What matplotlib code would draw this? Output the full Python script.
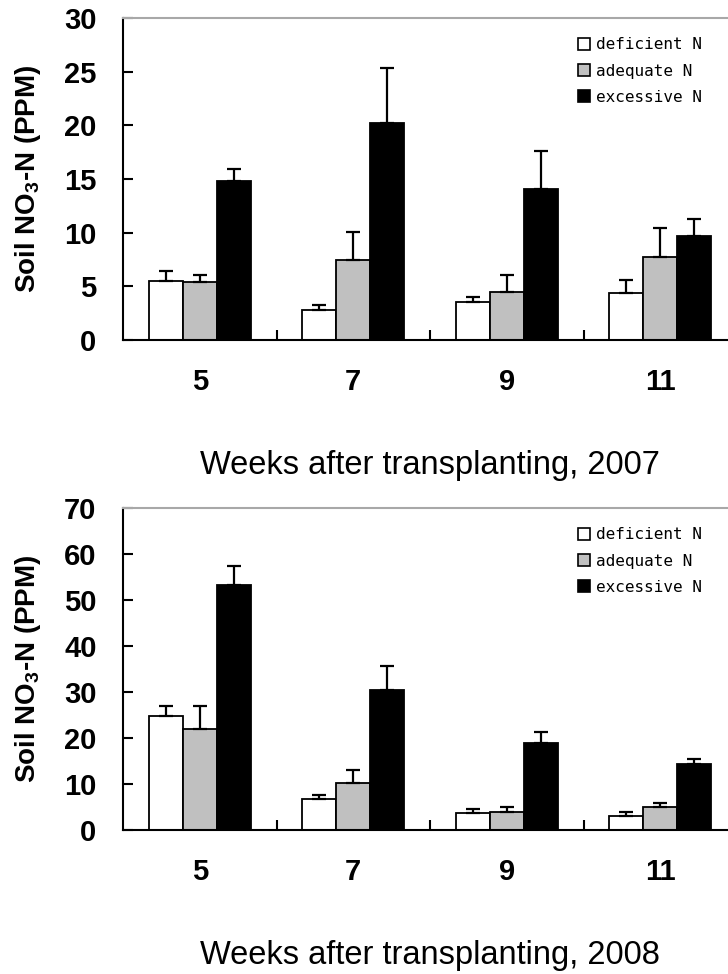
import matplotlib
matplotlib.use("Agg")
import matplotlib.pyplot as plt
from matplotlib.patches import Patch
import numpy as np

plt.rcParams['font.family'] = ['Liberation Sans', 'DejaVu Sans']
plt.rcParams['mathtext.fontset'] = 'custom'
plt.rcParams['mathtext.rm'] = 'Liberation Sans'
plt.rcParams['mathtext.bf'] = 'Liberation Sans:bold'

weeks = ['5', '7', '9', '11']
series = ['deficient N', 'adequate N', 'excessive N']
colors = ['white', '#c0c0c0', 'black']

# 2007
def07 = [5.5, 2.8, 3.5, 4.4]
def07_err = [0.95, 0.5, 0.5, 1.2]
adq07 = [5.4, 7.5, 4.5, 7.7]
adq07_err = [0.7, 2.6, 1.6, 2.7]
exc07 = [14.8, 20.2, 14.1, 9.7]
exc07_err = [1.15, 5.1, 3.55, 1.55]

# 2008
def08 = [24.8, 6.7, 3.7, 3.0]
def08_err = [2.1, 0.9, 0.95, 0.9]
adq08 = [22.0, 10.2, 4.0, 5.0]
adq08_err = [4.9, 2.8, 1.0, 0.8]
exc08 = [53.2, 30.4, 18.9, 14.3]
exc08_err = [4.3, 5.3, 2.3, 1.2]

panels = [
    dict(vals=[def07, adq07, exc07], errs=[def07_err, adq07_err, exc07_err],
         ymax=30, ystep=5, xlabel='Weeks after transplanting, 2007'),
    dict(vals=[def08, adq08, exc08], errs=[def08_err, adq08_err, exc08_err],
         ymax=70, ystep=10, xlabel='Weeks after transplanting, 2008'),
]

fig = plt.figure(figsize=(7.28, 9.74), dpi=100)
W, H = 728, 974
ax_left = 123 / W
ax_width = 614 / W
tops = [18, 508]
ax_h = 322

x = np.arange(1, len(weeks) + 1)
w = 0.222

for p, top in zip(panels, tops):
    ax = fig.add_axes([ax_left, 1 - (top + ax_h) / H, ax_width, ax_h / H])
    for i, (v, e, c) in enumerate(zip(p['vals'], p['errs'], colors)):
        pos = x + (i - 1) * w
        ax.bar(pos, v, width=w, color=c, edgecolor='black', linewidth=1.3,
               label=series[i], zorder=2)
        ax.errorbar(pos, v, yerr=[np.zeros(len(v)), e], fmt='none',
                    ecolor='black', elinewidth=1.6, capsize=5, capthick=1.6,
                    zorder=3)
    ax.set_xlim(0.5, 4.5)
    ax.set_ylim(0, p['ymax'])
    ax.set_yticks(np.arange(0, p['ymax'] + 1, p['ystep']))
    ax.set_xticks(x)
    ax.set_xticklabels(weeks)
    ax.set_xticks([1.5, 2.5, 3.5], minor=True)
    ax.tick_params(axis='x', which='major', length=0, pad=20,
                   labelsize=21)
    ax.tick_params(axis='x', which='minor', direction='in', length=7,
                   width=1.5)
    ax.tick_params(axis='y', which='major', direction='in', length=7,
                   width=1.5, pad=19, labelsize=21)
    for lab in ax.get_xticklabels() + ax.get_yticklabels():
        lab.set_fontweight('bold')
    ax.spines['right'].set_visible(False)
    ax.spines['top'].set_color('#a8a8a8')
    ax.spines['top'].set_linewidth(1.5)
    ax.spines['left'].set_linewidth(1.5)
    ax.spines['bottom'].set_linewidth(1.5)
    ax.set_ylabel(r'Soil NO$_\mathbf{3}$-N (PPM)', fontsize=20,
                  fontweight='bold')
    ax.yaxis.set_label_coords(-0.130, 0.5)
    ax.set_xlabel(p['xlabel'], fontsize=23.5, labelpad=39)

    handles = [Patch(facecolor=c, edgecolor='black', linewidth=1.2)
               for c in colors]
    ax.legend(handles, series, loc='upper left',
              bbox_to_anchor=(0.741, 0.94), frameon=False,
              prop={'family': 'DejaVu Sans Mono', 'size': 11.5},
              handlelength=0.75, handleheight=0.75, handletextpad=0.4,
              labelspacing=0.7, borderpad=0, borderaxespad=0)

fig.savefig('out.png', dpi=100)
